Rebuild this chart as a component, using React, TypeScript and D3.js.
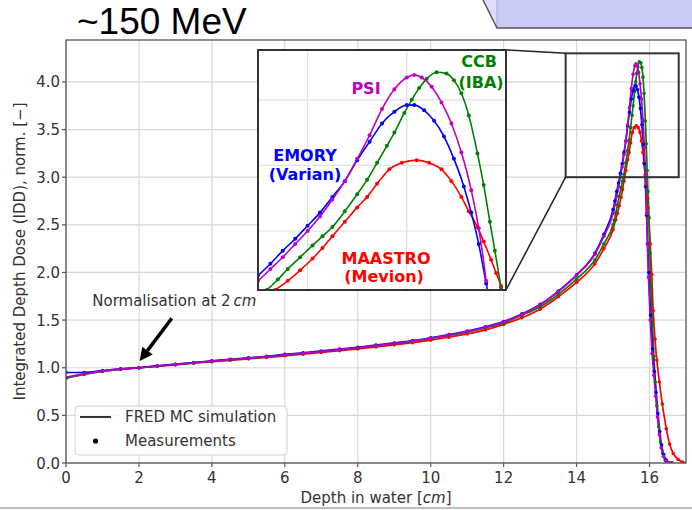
import React from "react";
import * as d3 from "d3";

// ---------- data ----------
const xTicks = [0, 2, 4, 6, 8, 10, 12, 14, 16];
const yTicks = [0, 0.5, 1, 1.5, 2, 2.5, 3, 3.5, 4];
const insetXGrid = [15.2, 15.6];
const insetYGrid = [3.0, 3.5, 4.0];

const plateauDepth = [0, 0.5, 1, 1.5, 2, 2.5, 3, 3.5, 4, 4.5, 5, 5.5, 6, 6.5, 7, 7.5, 8, 8.5, 9, 9.5, 10, 10.5, 11, 11.5, 12, 12.5, 13, 13.5, 14, 14.5, 14.75];

const psiPlateau = [0.9, 0.935, 0.965, 0.985, 1.0, 1.018, 1.035, 1.052, 1.07, 1.085, 1.1, 1.117, 1.135, 1.152, 1.17, 1.19, 1.21, 1.232, 1.255, 1.28, 1.31, 1.343, 1.38, 1.425, 1.48, 1.56, 1.66, 1.8, 1.97, 2.19, 2.38];
const emoryPlateau = [0.95, 0.95, 0.97, 0.988, 1.0, 1.02, 1.037, 1.055, 1.072, 1.088, 1.104, 1.12, 1.14, 1.157, 1.176, 1.195, 1.215, 1.237, 1.26, 1.285, 1.315, 1.348, 1.385, 1.43, 1.485, 1.565, 1.665, 1.805, 1.975, 2.2, 2.4];
const ccbPlateau = [0.89, 0.93, 0.962, 0.983, 1.0, 1.016, 1.033, 1.05, 1.068, 1.083, 1.098, 1.115, 1.132, 1.15, 1.168, 1.188, 1.208, 1.23, 1.252, 1.277, 1.306, 1.338, 1.374, 1.418, 1.47, 1.55, 1.64, 1.77, 1.93, 2.13, 2.3];
const maastroPlateau = [0.89, 0.935, 0.963, 0.985, 1.0, 1.015, 1.03, 1.047, 1.063, 1.078, 1.093, 1.108, 1.125, 1.142, 1.16, 1.178, 1.197, 1.218, 1.24, 1.263, 1.29, 1.32, 1.355, 1.397, 1.455, 1.525, 1.615, 1.745, 1.895, 2.09, 2.25];

const psiPeakDepth = [15.0, 15.05, 15.1, 15.15, 15.2, 15.25, 15.3, 15.35, 15.4, 15.45, 15.5, 15.55, 15.6, 15.63, 15.66, 15.7, 15.74, 15.78, 15.82, 15.86, 15.89, 15.92, 15.94, 15.97, 16.02, 16.07, 16.12, 16.17, 16.22, 16.27, 16.32, 16.38, 16.45, 16.52, 16.6];
const psiPeakDose = [2.62, 2.71, 2.8, 2.9, 3.0, 3.11, 3.24, 3.38, 3.55, 3.73, 3.93, 4.08, 4.17, 4.19, 4.17, 4.1, 3.98, 3.82, 3.6, 3.31, 3.02, 2.62, 2.3, 1.95, 1.5, 1.15, 0.92, 0.7, 0.48, 0.3, 0.16, 0.07, 0.02, 0.0, 0.0];

const emoryPeakDepth = [15.0, 15.05, 15.1, 15.15, 15.2, 15.25, 15.3, 15.35, 15.4, 15.45, 15.5, 15.55, 15.6, 15.63, 15.67, 15.71, 15.75, 15.79, 15.83, 15.86, 15.89, 15.92, 15.95, 15.98, 16.03, 16.08, 16.13, 16.18, 16.23, 16.28, 16.33, 16.39, 16.46, 16.54, 16.62];
const emoryPeakDose = [2.66, 2.75, 2.85, 2.94, 3.04, 3.14, 3.26, 3.38, 3.54, 3.68, 3.82, 3.91, 3.96, 3.96, 3.92, 3.84, 3.72, 3.55, 3.34, 3.14, 2.9, 2.6, 2.3, 2.0, 1.55, 1.2, 0.96, 0.74, 0.52, 0.33, 0.19, 0.09, 0.03, 0.0, 0.0];

const ccbPeakDepth = [15.0, 15.035, 15.08, 15.12, 15.17, 15.22, 15.26, 15.3, 15.35, 15.4, 15.44, 15.48, 15.52, 15.55, 15.59, 15.62, 15.65, 15.68, 15.72, 15.76, 15.79, 15.82, 15.85, 15.885, 15.91, 15.935, 15.955, 15.98, 16.01, 16.04, 16.08, 16.12, 16.16, 16.2, 16.25, 16.3, 16.36, 16.43, 16.5, 16.6];
const ccbPeakDose = [2.5, 2.55, 2.63, 2.71, 2.8, 2.89, 2.96, 3.03, 3.15, 3.28, 3.39, 3.52, 3.65, 3.75, 3.9, 4.0, 4.09, 4.16, 4.21, 4.2, 4.15, 4.05, 3.88, 3.59, 3.35, 3.07, 2.85, 2.57, 2.2, 1.85, 1.45, 1.12, 0.85, 0.6, 0.38, 0.22, 0.1, 0.03, 0.0, 0.0];

const maastroPeakDepth = [15.0, 15.07, 15.12, 15.17, 15.22, 15.26, 15.3, 15.35, 15.4, 15.44, 15.48, 15.53, 15.58, 15.64, 15.69, 15.74, 15.78, 15.82, 15.85, 15.885, 15.91, 15.94, 15.96, 15.98, 16.02, 16.06, 16.1, 16.15, 16.2, 16.27, 16.35, 16.46, 16.55, 16.65, 16.78, 16.9, 17.0];
const maastroPeakDose = [2.45, 2.55, 2.62, 2.7, 2.79, 2.87, 2.96, 3.07, 3.18, 3.26, 3.36, 3.47, 3.52, 3.54, 3.52, 3.47, 3.38, 3.26, 3.15, 3.03, 2.92, 2.78, 2.68, 2.58, 2.3, 1.98, 1.6, 1.3, 1.08, 0.85, 0.62, 0.36, 0.2, 0.1, 0.04, 0.01, 0.0];

const seriesNames = ["MAASTRO", "CCB", "EMORY", "PSI"];
const seriesColors = ["#ff0000", "#008000", "#0000ff", "#bf00bf"];

const zoomBoxX = [13.7, 16.8];
const zoomBoxY = [3.0, 4.3];

type Pt = [number, number];
function buildSeries(plateau: number[], pd: number[], pv: number[]): Pt[] {
  const a: Pt[] = plateauDepth.map((d, i) => [d, plateau[i]] as Pt);
  const b: Pt[] = pd.map((d, i) => [d, pv[i]] as Pt);
  return a.concat(b);
}

const seriesData: Pt[][] = [
  buildSeries(maastroPlateau, maastroPeakDepth, maastroPeakDose),
  buildSeries(ccbPlateau, ccbPeakDepth, ccbPeakDose),
  buildSeries(emoryPlateau, emoryPeakDepth, emoryPeakDose),
  buildSeries(psiPlateau, psiPeakDepth, psiPeakDose),
];

const FONT = "DejaVu Sans, sans-serif";

export default function App() {
  const L = 66, R = 686, T = 40, B = 463;
  const x = d3.scaleLinear().domain([0, 17]).range([L, R]);
  const y = d3.scaleLinear().domain([0, 4.44]).range([B, T]);

  const iL = 258, iR = 506, iT = 50, iB = 290;
  const ix = d3.scaleLinear().domain([15.0, 16.0]).range([iL, iR]);
  const iy = d3.scaleLinear().domain([2.55, 4.38]).range([iB, iT]);

  const line = d3.line<Pt>().x((d) => x(d[0])).y((d) => y(d[1])).curve(d3.curveMonotoneX);
  const iline = d3.line<Pt>().x((d) => ix(d[0])).y((d) => iy(d[1])).curve(d3.curveMonotoneX);

  // arrow
  const tail: Pt = [x(2.9), y(1.52)];
  const tip: Pt = [x(2.02), y(1.07)];
  const ang = Math.atan2(tip[1] - tail[1], tip[0] - tail[0]);
  const headLen = 13, headW = 6.5;
  const base: Pt = [tip[0] - headLen * Math.cos(ang), tip[1] - headLen * Math.sin(ang)];
  const p1: Pt = [base[0] + headW * Math.sin(ang), base[1] - headW * Math.cos(ang)];
  const p2: Pt = [base[0] - headW * Math.sin(ang), base[1] + headW * Math.cos(ang)];

  const zx0 = x(zoomBoxX[0]), zx1 = x(zoomBoxX[1]);
  const zy0 = y(zoomBoxY[1]), zy1 = y(zoomBoxY[0]);

  return (
    <svg width={692} height={510} style={{ position: "absolute", left: 0, top: 0, background: "#fff" }} fontFamily={FONT}>
      <defs>
        <clipPath id="mainClip"><rect x={L} y={T} width={R - L} height={B - T} /></clipPath>
        <clipPath id="insetClip"><rect x={iL} y={iT} width={iR - iL} height={iB - iT} /></clipPath>
      </defs>

      {/* top-right callout */}
      <polygon points="483,0 497,28 497,0" fill="#dedefa" />
      <rect x={497} y={0} width={195} height={28} fill="#c9c9f6" />
      <line x1={497} y1={0} x2={497} y2={28} stroke="#a8a8d8" strokeWidth={1} />
      <polyline points="483,0 497,28 692,28" fill="none" stroke="#555" strokeWidth={1.5} />

      {/* title */}
      <text x={77} y={34} fontFamily="Liberation Sans, Arial, sans-serif" fontSize={37} fill="#000">~150 MeV</text>

      {/* grid */}
      {xTicks.map((t) => (
        <line key={"gx" + t} x1={x(t)} x2={x(t)} y1={T} y2={B} stroke="#d8d8d8" strokeWidth={1.2} />
      ))}
      {yTicks.map((t) => (
        <line key={"gy" + t} x1={L} x2={R} y1={y(t)} y2={y(t)} stroke="#d8d8d8" strokeWidth={1.2} />
      ))}

      {/* curves */}
      <g clipPath="url(#mainClip)">
        {seriesData.map((s, i) => (
          <path key={"l" + i} d={line(s) || ""} fill="none" stroke={seriesColors[i]} strokeWidth={1.7} />
        ))}
        {seriesData.map((s, i) =>
          s.map((p, j) => (
            <circle key={"d" + i + "-" + j} cx={x(p[0])} cy={y(p[1])} r={1.8} fill={seriesColors[i]} />
          ))
        )}
      </g>

      {/* frame */}
      <rect x={L} y={T} width={R - L} height={B - T} fill="none" stroke="#555" strokeWidth={1.3} />

      {/* ticks */}
      {xTicks.map((t) => (
        <g key={"tx" + t}>
          <line x1={x(t)} x2={x(t)} y1={B} y2={B + 4} stroke="#555" strokeWidth={1.2} />
          <text x={x(t)} y={483} textAnchor="middle" fontSize={15} fill="#333">{t}</text>
        </g>
      ))}
      {yTicks.map((t) => (
        <g key={"ty" + t}>
          <line x1={L - 4} x2={L} y1={y(t)} y2={y(t)} stroke="#555" strokeWidth={1.2} />
          <text x={60} y={y(t) + 5.5} textAnchor="end" fontSize={15} fill="#333">{t.toFixed(1)}</text>
        </g>
      ))}

      {/* axis labels */}
      <text x={(L + R) / 2} y={503} textAnchor="middle" fontSize={15} fill="#333">
        Depth in water [<tspan fontStyle="italic">cm</tspan>]
      </text>
      <text transform={`translate(25,${(T + B) / 2}) rotate(-90)`} textAnchor="middle" fontSize={15} fill="#333">
        Integrated Depth Dose (IDD), norm. [−]
      </text>

      {/* zoom indicator */}
      <rect x={zx0} y={zy0} width={zx1 - zx0} height={zy1 - zy0} fill="none" stroke="#333" strokeWidth={2} />
      <line x1={iR} y1={iT} x2={zx0} y2={zy0} stroke="#222" strokeWidth={1.5} />
      <line x1={iR} y1={iB} x2={zx0} y2={zy1} stroke="#222" strokeWidth={1.5} />

      {/* inset */}
      <rect x={iL} y={iT} width={iR - iL} height={iB - iT} fill="#fff" />
      {insetXGrid.map((t) => (
        <line key={"igx" + t} x1={ix(t)} x2={ix(t)} y1={iT} y2={iB} stroke="#e0e0e0" strokeWidth={1.2} />
      ))}
      {insetYGrid.map((t) => (
        <line key={"igy" + t} x1={iL} x2={iR} y1={iy(t)} y2={iy(t)} stroke="#e0e0e0" strokeWidth={1.2} />
      ))}
      <g clipPath="url(#insetClip)">
        {seriesData.map((s, i) => (
          <path key={"il" + i} d={iline(s) || ""} fill="none" stroke={seriesColors[i]} strokeWidth={1.6} />
        ))}
        {seriesData.map((s, i) =>
          s.map((p, j) => (
            <circle key={"id" + i + "-" + j} cx={ix(p[0])} cy={iy(p[1])} r={2} fill={seriesColors[i]} />
          ))
        )}
      </g>
      <rect x={iL} y={iT} width={iR - iL} height={iB - iT} fill="none" stroke="#333" strokeWidth={2} />

      {/* inset labels */}
      <g fontWeight="bold" fontSize={16} textAnchor="middle">
        <text x={366} y={94} fill="#bf00bf">{seriesNames[3]}</text>
        <text x={479} y={67} fill="#008000">{seriesNames[1]}</text>
        <text x={481} y={88} fill="#008000">(IBA)</text>
        <text x={305} y={161} fill="#0000ff">{seriesNames[2]}</text>
        <text x={305} y={180} fill="#0000ff">(Varian)</text>
        <text x={386} y={264} fill="#ff0000">{seriesNames[0]}</text>
        <text x={384} y={282} fill="#ff0000">(Mevion)</text>
      </g>

      {/* annotation */}
      <text x={x(0.72)} y={306} fontSize={15} fill="#333">
        Normalisation at 2{"\u2009"}<tspan fontStyle="italic">cm</tspan>
      </text>
      <line x1={tail[0]} y1={tail[1]} x2={base[0]} y2={base[1]} stroke="#000" strokeWidth={3.5} />
      <polygon points={`${tip[0]},${tip[1]} ${p1[0]},${p1[1]} ${p2[0]},${p2[1]}`} fill="#000" />

      {/* legend */}
      <rect x={75} y={406} width={212} height={49} rx={4} fill="#fff" fillOpacity={0.85} stroke="#d0d0d0" strokeWidth={1} />
      <line x1={80} x2={111} y1={417} y2={417} stroke="#000" strokeWidth={1.6} />
      <text x={125} y={422} fontSize={15} fill="#333">FRED MC simulation</text>
      <circle cx={95.5} cy={441} r={2.6} fill="#000" />
      <text x={125} y={446} fontSize={15} fill="#333">Measurements</text>

      {/* bottom rule */}
      <line x1={0} x2={692} y1={508} y2={508} stroke="#aaa" strokeWidth={1.5} />
    </svg>
  );
}
